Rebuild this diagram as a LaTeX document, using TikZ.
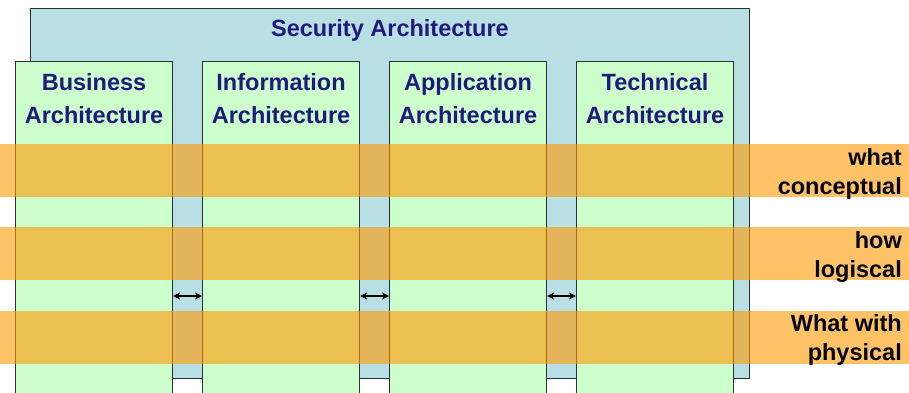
\documentclass[tikz,border=0pt]{standalone}
\usepackage{fontspec}
\setmainfont{Liberation Sans}
\usetikzlibrary{arrows.meta}
\definecolor{secfill}{RGB}{184,223,227}
\definecolor{colfill}{RGB}{204,255,204}
\definecolor{edge}{RGB}{40,50,50}
\definecolor{navy}{RGB}{32,26,124}
\definecolor{band}{RGB}{255,153,0}
\begin{document}
\begin{tikzpicture}[x=1pt,y=-1pt,
  secbox/.style={draw=edge,line width=1.1pt,fill=secfill,anchor=north west,
    minimum width=719pt,minimum height=370pt,inner sep=0pt},
  colbox/.style={draw=edge,line width=1.1pt,fill=colfill,anchor=north west,
    minimum width=157pt,minimum height=345pt,inner sep=0pt},
  coltitle/.style={text=navy,align=center,inner sep=0pt,anchor=base,
    font=\fontsize{23.5}{33}\selectfont\bfseries},
  layer/.style={fill=band,fill opacity=0.6,anchor=north west,
    minimum width=909pt,minimum height=53pt,inner sep=0pt},
  layertext/.style={align=right,inner sep=0pt,anchor=base east,
    font=\fontsize{23.5}{28.5}\selectfont\bfseries},
  link/.style={{Stealth[length=7pt,width=7pt]}-{Stealth[length=7pt,width=7pt]},
    line width=1.3pt,black}]
\useasboundingbox (0,0) rectangle (909,392);
\clip (0,0) rectangle (909,392);

% enclosing security layer
\node[secbox] (sec) at (30,8) {};
\node[coltitle] (sectitle) at (390,36.5) {Security Architecture};

% the four architecture columns (last text line sits on the anchor)
\node[colbox] (bus) at (15,61) {};
\node[colbox] (inf) at (202,61) {};
\node[colbox] (app) at (389,61) {};
\node[colbox] (tec) at (576,61) {};
\node[coltitle] (bust) at (bus.north |- 0,123) {Business\\Architecture};
\node[coltitle] (inft) at (inf.north |- 0,123) {Information\\Architecture};
\node[coltitle] (appt) at (app.north |- 0,123) {Application\\Architecture};
\node[coltitle] (tect) at (tec.north |- 0,123) {Technical\\Architecture};

% links between neighbouring columns
\coordinate (row) at (0,296);
\draw[link] (bus.east |- row) -- (inf.west |- row);
\draw[link] (inf.east |- row) -- (app.west |- row);
\draw[link] (app.east |- row) -- (tec.west |- row);

% horizontal abstraction layers
\node[layer] (l1) at (0,144) {};
\node[layer] (l2) at (0,227) {};
\node[layer] (l3) at (0,310.5) {};
\node[layertext] (l1t) at (902,194) {what\\conceptual};
\node[layertext] (l2t) at (902,277) {how\\logiscal};
\node[layertext] (l3t) at (902,360) {What with\\physical};
\end{tikzpicture}
\end{document}
